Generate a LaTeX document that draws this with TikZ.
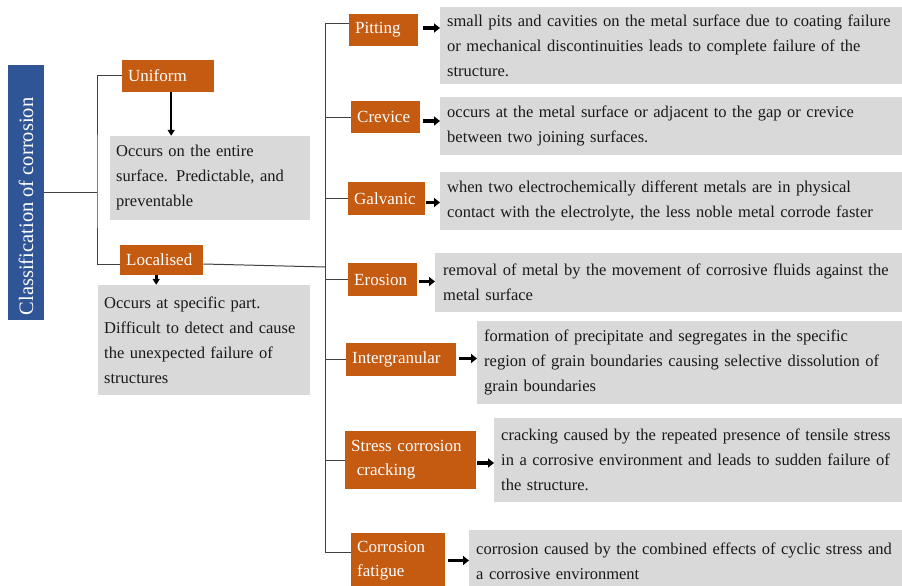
\documentclass[tikz,border=0pt]{standalone}
\usepackage{fontspec}
\setmainfont{Liberation Serif}
\usetikzlibrary{arrows.meta}
\definecolor{corange}{HTML}{C55A11}
\definecolor{cgray}{HTML}{D9D9D9}
\definecolor{cblue}{HTML}{2F5597}
\begin{document}
\begin{tikzpicture}[x=1pt,y=-1pt,
  lab/.style={fill=corange, text=white, font=\fontsize{17}{24}\selectfont, inner xsep=6pt, inner ysep=0pt, align=left, anchor=west},
  desc/.style={fill=cgray, text=black!90, font=\fontsize{16.5}{25}\selectfont, inner xsep=7pt, inner ysep=0pt, align=left, anchor=west},
  conn/.style={draw=black!75, line width=1pt},
  arr/.style={-{Triangle[length=6pt,width=9pt]}, line width=3.5pt, shorten >=0pt},
  varr/.style={-{Triangle[length=6pt,width=7pt]}, line width=2pt}
]
\useasboundingbox (0,0) rectangle (902,586);
\fill[white] (0,0) rectangle (902,586);

% root
\node[fill=cblue, minimum width=36pt, minimum height=255pt, inner sep=0pt] (root) at (26,192.5) {};
\node[rotate=90, text=white, font=\fontsize{20.5}{24}\selectfont] (roottxt) at ([yshift=-14pt]root.center) {Classification of corrosion};

% first level
\node[lab, text width=80pt, minimum height=32pt] (uni) at (122,76) {Uniform};
\node[lab, text width=71pt, minimum height=30pt] (loc) at (120,260) {Localised};

\node[desc, text width=188pt, minimum height=84pt, inner xsep=6pt] (unid) at (110,178)
  {Occurs on the entire\\surface. Predictable, and\\preventable};
\node[desc, text width=200pt, minimum height=110pt, inner xsep=6pt] (locd) at (98,340)
  {Occurs at specific part.\\Difficult to detect and cause\\the unexpected failure of\\structures};

% second level labels
\node[lab, text width=57pt, minimum height=32pt] (pit) at (349,30) {Pitting};
\node[lab, text width=57pt, minimum height=32pt] (cre) at (351,117) {Crevice};
\node[lab, text width=65pt, minimum height=33pt] (gal) at (348,198.5) {Galvanic};
\node[lab, text width=57pt, minimum height=33pt] (ero) at (348,279.5) {Erosion};
\node[lab, text width=98pt, minimum height=33pt] (int) at (346,359.5) {Intergranular};
\node[lab, text width=119pt, minimum height=58pt] (scc) at (345,460) {Stress corrosion\\\ cracking};
\node[lab, text width=82pt, minimum height=55pt] (fat) at (351,560.5) {Corrosion\\fatigue};

% descriptions
\node[desc, text width=480pt, minimum height=77pt] (pitd) at (440,45.5)
  {small pits and cavities on the metal surface due to coating failure\\or mechanical discontinuities leads to complete failure of the\\structure.};
\node[desc, text width=480pt, minimum height=58pt] (cred) at (440,126)
  {occurs at the metal surface or adjacent to the gap or crevice\\between two joining surfaces.};
\node[desc, text width=480pt, minimum height=58pt] (gald) at (440,201)
  {when two electrochemically different metals are in physical\\contact with the electrolyte, the less noble metal corrode faster};
\node[desc, text width=480pt, minimum height=59pt, inner xsep=8pt] (erod) at (435,282.5)
  {removal of metal by the movement of corrosive fluids against the\\metal surface};
\node[desc, text width=480pt, minimum height=83pt] (intd) at (477,362.5)
  {formation of precipitate and segregates in the specific\\region of grain boundaries causing selective dissolution of\\grain boundaries};
\node[desc, text width=480pt, minimum height=84pt] (sccd) at (494,460)
  {cracking caused by the repeated presence of tensile stress\\in a corrosive environment and leads to sudden failure of\\the structure.};
\node[desc, text width=480pt, minimum height=62pt] (fatd) at (469,561)
  {corrosion caused by the combined effects of cyclic stress and\\a corrosive environment};

% connectors level 1
\coordinate (j1) at (97,192.5);
\draw[conn] (root.east) -- (j1);
\draw[conn] (uni.west) -| (j1) |- ([yshift=-4pt]loc.west);
\draw[varr] ([xshift=3pt]uni.south) -- ([xshift=3pt]uni.south |- unid.north);
\draw[varr, line width=3pt] ([xshift=-5.5pt]loc.south) -- ([xshift=-5.5pt]loc.south |- locd.north);

% trunk
\coordinate (ttop) at (325,24);
\coordinate (tbot) at (325,552);
\coordinate (tloc) at (325,267);
\draw[conn] (ttop) -- (tbot);
\draw[conn] ([yshift=-4pt]loc.east) -- (tloc);
\draw[conn] (ttop) -- (pit.west |- ttop);
\draw[conn] (cre.west -| ttop) -- (cre.west);
\draw[conn] (gal.west -| ttop) -- (gal.west);
\draw[conn] (ero.west -| ttop) -- (ero.west);
\draw[conn] (int.west -| ttop) -- (int.west);
\draw[conn] (scc.west -| ttop) -- (scc.west);
\draw[conn] (tbot) -- (fat.west |- tbot);

% arrows to descriptions
\draw[arr] ([xshift=5pt,yshift=2pt]pit.east) -- ([yshift=2pt]pitd.west |- pit.east);
\draw[arr] ([xshift=3pt,yshift=-4pt]cre.east) -- ([yshift=-4pt]cred.west |- cre.east);
\draw[arr] ([xshift=1pt,yshift=-4pt]gal.east) -- ([yshift=-4pt]gald.west |- gal.east);
\draw[arr] ([xshift=2pt,yshift=-2pt]ero.east) -- ([yshift=-2pt]erod.west |- ero.east);
\draw[arr] ([xshift=3pt,yshift=1pt]int.east) -- ([yshift=1pt]intd.west |- int.east);
\draw[arr] ([xshift=1pt,yshift=-3pt]scc.east) -- ([yshift=-3pt]sccd.west |- scc.east);
\draw[arr] ([xshift=3pt]fat.east) -- (fatd.west |- fat.east);
\end{tikzpicture}
\end{document}
